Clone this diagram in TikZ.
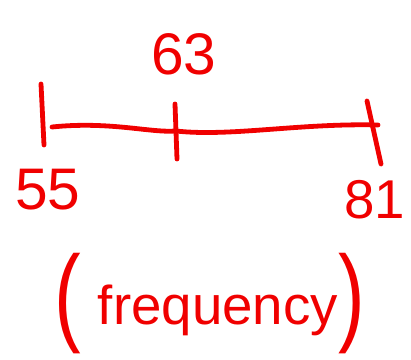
\documentclass[tikz,border=0pt]{standalone}
\usepackage{fontspec}
\setmainfont{Liberation Sans}
\definecolor{ink}{RGB}{240,0,0}
\begin{document}
\begin{tikzpicture}[x=0.75pt,y=-0.75pt,
  stroke/.style={draw=ink,line width=3.6pt,line cap=round},
  lbl/.style={text=ink,inner sep=0pt,font=\fontsize{44}{50}\selectfont},
  paren/.style={text=ink,inner sep=0pt,font=\fontsize{60}{70}\selectfont,yscale=1.35}]
\useasboundingbox (0,0) rectangle (411,360);
% axis
\coordinate (L) at (52,127);
\coordinate (M) at (176,131);
\coordinate (R) at (378,125);
\draw[stroke] (L) .. controls (110,121) and (150,133) .. (M) .. controls (230,137) and (300,123) .. (R);
% ticks
\coordinate (t1a) at (41,84);
\coordinate (t1b) at (44,145);
\coordinate (t2a) at (175,104);
\coordinate (t2b) at (177,159);
\coordinate (t3a) at (367,101);
\coordinate (t3b) at (381,164);
\draw[stroke] (t1a) -- (t1b);
\draw[stroke] (t2a) -- (t2b);
\draw[stroke] (t3a) -- (t3b);
% labels
\node[lbl] (n63) at (184,54) {63};
\node[lbl] (n55) at (48,190) {55};
\node[lbl,font=\fontsize{41}{48}\selectfont] (n81) at (375,200) {81};
\node[lbl,font=\fontsize{41}{48}\selectfont] (freq) at (218,310) {frequency};
\node[paren] (lp) at (68,304) {(};
\node[paren] (rp) at (352,304) {)};
\end{tikzpicture}
\end{document}
